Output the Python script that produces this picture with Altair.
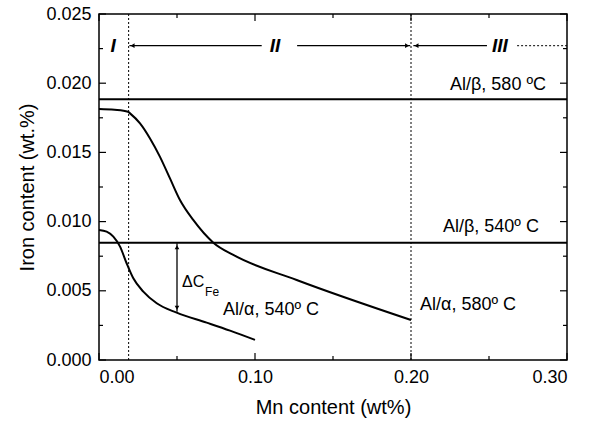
import altair as alt
import pandas as pd

FONT = "Liberation Sans"

# Curves
mn_580 = [0, 0.010, 0.0186, 0.0199, 0.0263, 0.0327, 0.0391, 0.0455, 0.0519, 0.0604, 0.0733, 0.0861, 0.1267, 0.2]
fe_580 = [0.01814, 0.01808, 0.01794, 0.01782, 0.01710, 0.01601, 0.01468, 0.01312, 0.01156, 0.01012, 0.00848, 0.00759, 0.00578, 0.00289]
mn_540 = [0, 0.0049, 0.0092, 0.0135, 0.0177, 0.022, 0.0284, 0.037, 0.0498, 0.069, 0.084, 0.1]
fe_540 = [0.00939, 0.00927, 0.00891, 0.00819, 0.00699, 0.0059, 0.00494, 0.0041, 0.00342, 0.00270, 0.00212, 0.00145]

# Horizontal solubility lines (Al/beta)
beta_levels = [0.01884, 0.00848]
# Region boundaries (dotted verticals)
boundaries = [0.019, 0.2]

# Delta C arrow
dc_x = [0.05]
dc_top = [0.00843]
dc_bot = [0.00349]

# Ticks
x_major = [0.0, 0.1, 0.2, 0.3]
x_minor = [0.05, 0.15, 0.25]
y_major = [0.0, 0.005, 0.010, 0.015, 0.020, 0.025]
y_minor = [0.0025, 0.0075, 0.0125, 0.0175, 0.0225]

# Region arrow segments on top
seg_x1 = [0.0195, 0.127, 0.2015]
seg_x2 = [0.1043, 0.1995, 0.2487]
seg_y = 0.02271
dot_x1 = [0.268]
dot_x2 = [0.3]
arrow_left_x = [0.0215, 0.2035]
arrow_right_x = [0.1975]

# Labels
lab_text = ["Al/β, 580 ºC", "Al/β, 540º C", "Al/α, 580º C", "Al/α, 540º C"]
lab_x = [0.225, 0.2205, 0.2058, 0.0795]
lab_y = [0.01987, 0.00961, 0.00397, 0.00361]
reg_text = ["I", "II", "III"]
reg_x = [0.009, 0.1128, 0.257]

W, H = 468, 346
xs = alt.Scale(domain=[0, 0.3], nice=False, zero=False)
ys = alt.Scale(domain=[0, 0.025], nice=False, zero=False)

X = lambda f: alt.X(f, type="quantitative", scale=xs,
                    axis=alt.Axis(values=x_major, format=".2f", title="Mn content (wt%)"))
Y = lambda f: alt.Y(f, type="quantitative", scale=ys,
                    axis=alt.Axis(values=y_major, format=".3f", title="Iron content (wt.%)"))

c580 = alt.Chart(pd.DataFrame({"x": mn_580, "y": fe_580})).mark_line(
    color="black", strokeWidth=2, interpolate="monotone").encode(x=X("x"), y=Y("y"))
c540 = alt.Chart(pd.DataFrame({"x": mn_540, "y": fe_540})).mark_line(
    color="black", strokeWidth=2, interpolate="monotone").encode(x=X("x"), y=Y("y"))

hlines = alt.Chart(pd.DataFrame({"y": beta_levels})).mark_rule(
    color="black", strokeWidth=2).encode(y=Y("y"), x=alt.value(0), x2=alt.value(W))

vlines = alt.Chart(pd.DataFrame({"x": boundaries})).mark_rule(
    color="black", strokeWidth=1, strokeDash=[2, 2]).encode(x=X("x"), y=alt.value(0), y2=alt.value(H))

dc = alt.Chart(pd.DataFrame({"x": dc_x, "y": dc_top, "y2": dc_bot})).mark_rule(
    color="black", strokeWidth=1.3).encode(x=X("x"), y=Y("y"), y2="y2")
dc_up = alt.Chart(pd.DataFrame({"x": dc_x, "y": dc_top})).mark_point(
    shape="triangle-up", filled=True, color="black", size=22, opacity=1, yOffset=4).encode(x=X("x"), y=Y("y"))
dc_dn = alt.Chart(pd.DataFrame({"x": dc_x, "y": dc_bot})).mark_point(
    shape="triangle-down", filled=True, color="black", size=22, opacity=1, yOffset=-4).encode(x=X("x"), y=Y("y"))

segs = alt.Chart(pd.DataFrame({"x": seg_x1, "x2": seg_x2, "y": [seg_y] * 3})).mark_rule(
    color="black", strokeWidth=1.2).encode(x=X("x"), x2="x2", y=Y("y"))
dots = alt.Chart(pd.DataFrame({"x": dot_x1, "x2": dot_x2, "y": [seg_y]})).mark_rule(
    color="black", strokeWidth=1, strokeDash=[2, 2]).encode(x=X("x"), x2="x2", y=Y("y"))
al = alt.Chart(pd.DataFrame({"x": arrow_left_x, "y": [seg_y] * 2})).mark_point(
    shape="triangle-left", filled=True, color="black", size=22, opacity=1).encode(x=X("x"), y=Y("y"))
ar = alt.Chart(pd.DataFrame({"x": arrow_right_x, "y": [seg_y]})).mark_point(
    shape="triangle-right", filled=True, color="black", size=22, opacity=1).encode(x=X("x"), y=Y("y"))

regs = alt.Chart(pd.DataFrame({"x": reg_x, "y": [seg_y] * 3, "t": reg_text})).mark_text(
    font=FONT, fontSize=19, fontWeight="bold", fontStyle="italic", color="black",
    align="center", baseline="middle").encode(x=X("x"), y=Y("y"), text="t:N")

labs = alt.Chart(pd.DataFrame({"x": lab_x, "y": lab_y, "t": lab_text})).mark_text(
    font=FONT, fontSize=18, color="black", align="left", baseline="middle").encode(
    x=X("x"), y=Y("y"), text="t:N")

dct = alt.Chart(pd.DataFrame({"x": [0.0532], "y": [0.00566], "t": ["ΔC"]})).mark_text(
    font=FONT, fontSize=16, color="black", align="left", baseline="middle").encode(
    x=X("x"), y=Y("y"), text="t:N")
fet = alt.Chart(pd.DataFrame({"x": [0.068], "y": [0.00494], "t": ["Fe"]})).mark_text(
    font=FONT, fontSize=12, color="black", align="left", baseline="middle").encode(
    x=X("x"), y=Y("y"), text="t:N")

# Inward ticks on all four sides
def xticks(vals, ln):
    d = pd.DataFrame({"x": vals})
    b = alt.Chart(d).mark_rule(color="black", strokeWidth=1.2).encode(x=X("x"), y=alt.value(H), y2=alt.value(H - ln))
    t = alt.Chart(d).mark_rule(color="black", strokeWidth=1.2).encode(x=X("x"), y=alt.value(0), y2=alt.value(ln))
    return b + t

def yticks(vals, ln):
    d = pd.DataFrame({"y": vals})
    l = alt.Chart(d).mark_rule(color="black", strokeWidth=1.2).encode(y=Y("y"), x=alt.value(0), x2=alt.value(ln))
    r = alt.Chart(d).mark_rule(color="black", strokeWidth=1.2).encode(y=Y("y"), x=alt.value(W), x2=alt.value(W - ln))
    return l + r

chart = alt.layer(
    xticks(x_major, 7), xticks(x_minor, 4), yticks(y_major, 7), yticks(y_minor, 4),
    hlines, vlines, c580, c540, dc, dc_up, dc_dn, segs, dots, al, ar, regs, labs, dct, fet
).properties(
    width=W, height=H,
    autosize=alt.AutoSizeParams(type="none"),
    padding={"left": 99, "top": 14, "right": 30, "bottom": 68},
    background="white",
).configure_view(
    stroke="black", strokeWidth=1.5
).configure_axis(
    grid=False, ticks=False, domain=False,
    labelFont=FONT, labelFontSize=18, labelColor="black",
    titleFont=FONT, titleFontSize=20, titleColor="black", titleFontWeight="normal",
).configure_axisX(
    labelPadding=8, titlePadding=11
).configure_axisY(
    labelPadding=8, titlePadding=8
)

chart.save("out.html", embed_options={"renderer": "svg", "actions": False})
